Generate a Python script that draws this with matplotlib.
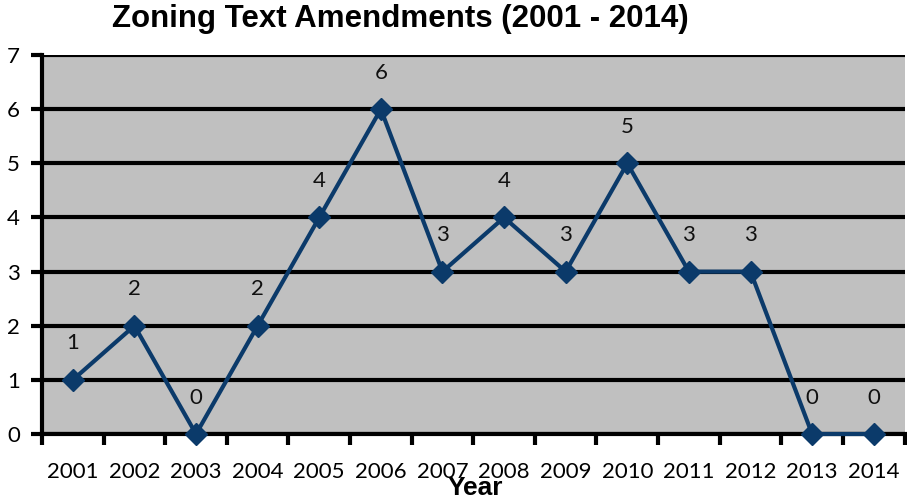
import matplotlib.pyplot as plt
import numpy as np

years = ['2001', '2002', '2003', '2004', '2005', '2006', '2007',
         '2008', '2009', '2010', '2011', '2012', '2013', '2014']
amendments = [1, 2, 0, 2, 4, 6, 3, 4, 3, 5, 3, 3, 0, 0]

plt.rcParams['font.family'] = ['Lato', 'DejaVu Sans']

fig = plt.figure(figsize=(9.07, 5.01), dpi=100)
ax = fig.add_axes([0.0463, 0.1337, 0.951, 0.7563])
ax.set_facecolor('#c0c0c0')

x = np.arange(len(years))
line_color = '#0b3a6a'
ax.plot(x, amendments, color=line_color, linewidth=3, marker='D',
        markersize=11, markerfacecolor=line_color, markeredgecolor=line_color,
        zorder=4, clip_on=False)

# value labels over each point
for xi, v in zip(x, amendments):
    ax.annotate(str(v), (xi, v), xytext=(0, 19), textcoords='offset points',
                ha='center', va='bottom', fontsize=16, color='#111111')

ax.set_xlim(-0.5, len(years) - 0.5)
ax.set_ylim(0, 7)
ax.set_yticks(range(0, 8))
ax.set_xticks(x)
ax.set_xticklabels(years)
ax.set_xticks(np.arange(-0.5, len(years)), minor=True)
ax.tick_params(axis='x', which='major', length=0, pad=20, labelsize=16)
ax.tick_params(axis='x', which='minor', length=8, width=3, direction='out')
ax.tick_params(axis='y', length=8, width=3, direction='out', labelsize=16, pad=8)

ax.yaxis.grid(True, color='black', linewidth=3)
ax.set_axisbelow(True)
for side in ['left', 'bottom']:
    ax.spines[side].set_linewidth(3)
ax.spines['right'].set_visible(False)
ax.spines['top'].set_visible(False)

fig.text(0.441, 0.962, 'Zoning Text Amendments (2001 - 2014)', ha='center',
         va='center', fontsize=22.5, fontweight='bold', family='Liberation Sans')
fig.text(0.524, 0.025, 'Year', ha='center', va='center', fontsize=19,
         fontweight='bold', family='Liberation Sans')

fig.savefig('out.png', dpi=100)
